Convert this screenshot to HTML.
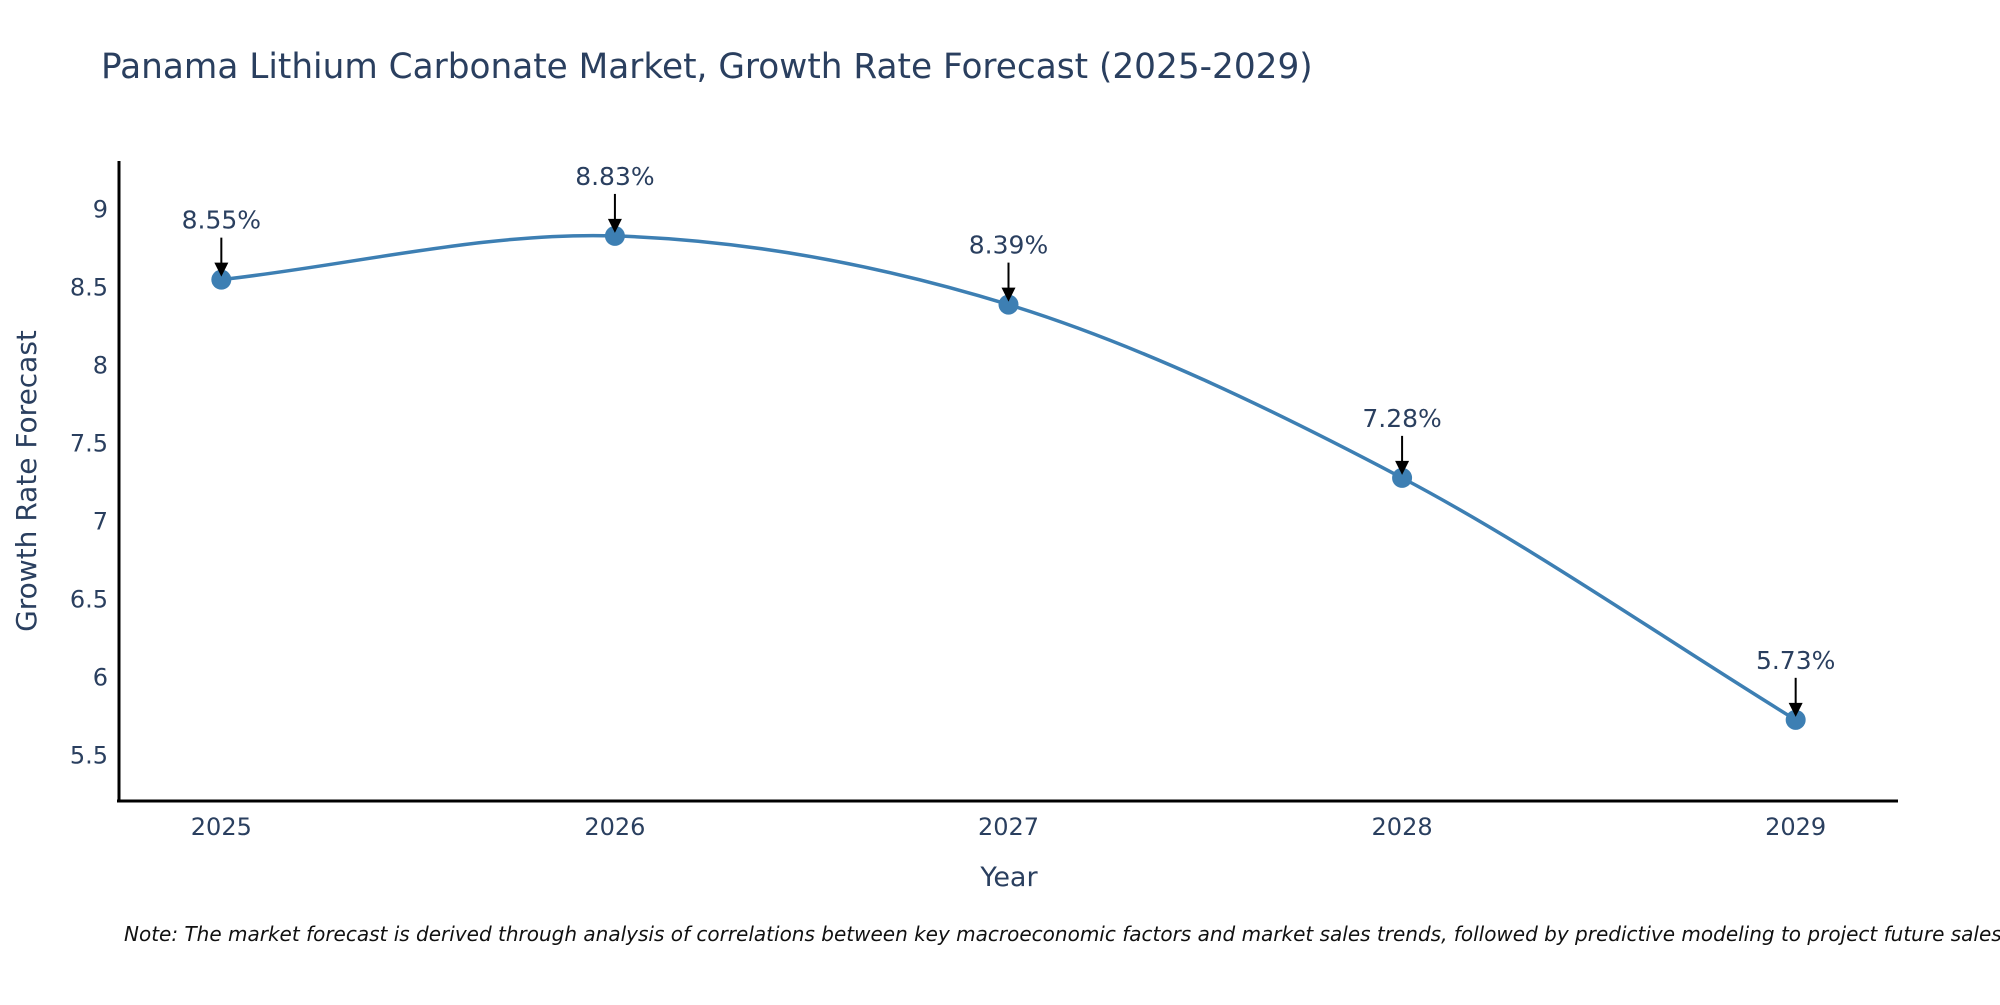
<!DOCTYPE html>
<html><head><meta charset="utf-8"><style>
body{margin:0;background:#fff;width:2000px;height:1000px;overflow:hidden;font-family:"Liberation Sans","DejaVu Sans",sans-serif;}
svg text{font-family:"DejaVu Sans","Liberation Sans",sans-serif;fill:#2a3f5f;}
</style></head><body>
<svg id="chart" width="2000" height="1000" xmlns="http://www.w3.org/2000/svg">
<text x="101" y="78" font-size="34.3">Panama Lithium Carbonate Market, Growth Rate Forecast (2025-2029)</text>
<g id="yticks"></g>
<g id="xticks"></g>
<line x1="119" y1="161" x2="119" y2="802" stroke="#000" stroke-width="3"/>
<line x1="117" y1="801" x2="1898" y2="801" stroke="#000" stroke-width="3"/>
<text transform="translate(36,481) rotate(-90)" text-anchor="middle" font-size="28">Growth Rate Forecast</text>
<text x="1009" y="886" text-anchor="middle" font-size="27">Year</text>
<path id="line" fill="none" stroke="#3d7fb3" stroke-width="3.5"/>
<g id="points"></g>
<g id="annots"></g>
<text x="124" y="941" font-size="20" font-style="italic" style="fill:#111">Note: The market forecast is derived through analysis of correlations between key macroeconomic factors and market sales trends, followed by predictive modeling to project future sales.</text>
</svg>
<script>
const years=[2025,2026,2027,2028,2029];
const values=[8.55,8.83,8.39,7.28,5.73];
const labels=["8.55%","8.83%","8.39%","7.28%","5.73%"];
const yTicks=[5.5,6,6.5,7,7.5,8,8.5,9];
const yTickLabels=["5.5","6","6.5","7","7.5","8","8.5","9"];
const NS="http://www.w3.org/2000/svg";
function xs(v){return 119+(v-2024.74)/(4.52)*(1898-119);}
function ys(v){return 801-(v-5.21)/(4.1)*(801-161);}
function mk(t,a,p){const e=document.createElementNS(NS,t);for(const k in a)e.setAttribute(k,a[k]);p.appendChild(e);return e;}
const yt=document.getElementById('yticks');
yTicks.forEach((v,i)=>{const t=mk('text',{x:108,y:ys(v)+8,'text-anchor':'end','font-size':24},yt);


t.textContent=yTickLabels[i];});
const xt=document.getElementById('xticks');
years.forEach(v=>{const t=mk('text',{x:xs(v),y:835,'text-anchor':'middle','font-size':24},xt);


t.textContent=String(v);});
const P=years.map((y,i)=>[xs(y),ys(values[i])]);
let d='M'+P[0][0]+','+P[0][1];
const s=0.33;
for(let i=0;i<P.length-1;i++){
 const p0=P[i-1]||P[i],p1=P[i],p2=P[i+1],p3=P[i+2]||P[i+1];
 const c1=[p1[0]+(p2[0]-p0[0])*s/(i===0?1:2),p1[1]+(p2[1]-p0[1])*s/(i===0?1:2)];
 const c2=[p2[0]-(p3[0]-p1[0])*s/(i===P.length-2?1:2),p2[1]-(p3[1]-p1[1])*s/(i===P.length-2?1:2)];
 d+=' C'+c1[0]+','+c1[1]+' '+c2[0]+','+c2[1]+' '+p2[0]+','+p2[1];
}
document.getElementById('line').setAttribute('d',d);
const pts=document.getElementById('points'),an=document.getElementById('annots');
P.forEach((p,i)=>{
 const c=mk('circle',{cx:p[0],cy:p[1],r:10,fill:'#3d7fb3'},pts);
 
 
 const l=mk('line',{x1:p[0],y1:p[1]-42,x2:p[0],y2:p[1]-14,stroke:'#000','stroke-width':2},an);
 
 
 const h=mk('polygon',{points:(p[0]-7)+','+(p[1]-17)+' '+(p[0]+7)+','+(p[1]-17)+' '+p[0]+','+(p[1]-3),fill:'#000'},an);
 
 
 const t=mk('text',{x:p[0],y:p[1]-51,'text-anchor':'middle','font-size':25},an);
 
 
 t.textContent=labels[i];
});
</script>
</body></html>
